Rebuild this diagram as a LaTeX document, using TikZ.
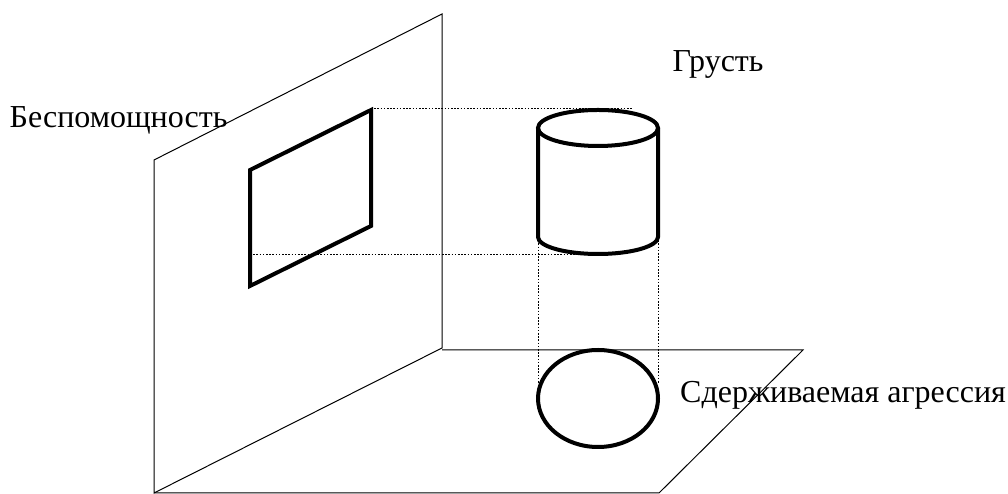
\documentclass[tikz,border=0pt]{standalone}
\usepackage{fontspec}
\setmainfont{Liberation Serif}
\tikzset{
  planeline/.style={draw=black,line width=1pt,line join=miter},
  boldline/.style={draw=black,line width=4pt,line join=miter},
  projline/.style={draw=black,line width=1.6pt,dash pattern=on 1.6pt off 1.6pt},
  lbl/.style={font=\fontsize{32}{36}\selectfont,anchor=base west,inner sep=0pt}
}

\begin{document}
\begin{tikzpicture}[x=1pt,y=1pt]
  \useasboundingbox (0,0) rectangle (1008,494);

  % Projection lines
  \draw[projline] (371,385.5) -- (632,385.5);
  \draw[projline] (250,239.5) -- (575,239.5);
  \foreach \x in {538.5,658.5}{
    \draw[projline] (\x,257) -- (\x,110);
  }

  % Wall and floor
  \draw[planeline] (154,1) -- (154,334) -- (442,480) -- (442,146) -- cycle;
  \draw[planeline] (442,144) -- (803,144) -- (659,1) -- (154,1);

  % Flat shadow on the wall
  \draw[boldline] (250,324) -- (371,384) -- (371,268) -- (250,208) -- cycle;

  % Cylinder
  \draw[boldline] (598,366) ellipse [x radius=60,y radius=18];
  \draw[boldline] (538,366) -- (538,257) arc [start angle=180,end angle=360,x radius=60,y radius=17] -- (658,366);

  % Circle on the floor
  \draw[boldline] (598,95.5) ellipse [x radius=60,y radius=48.5];

  % Labels
  \node[lbl] (grust) at (672.5,422) {Грусть};
  \node[lbl] (bespom) at (9.5,366) {Беспомощность};
  \node[lbl] (agress) at (680,91) {Сдерживаемая агрессия};
\end{tikzpicture}
\end{document}
